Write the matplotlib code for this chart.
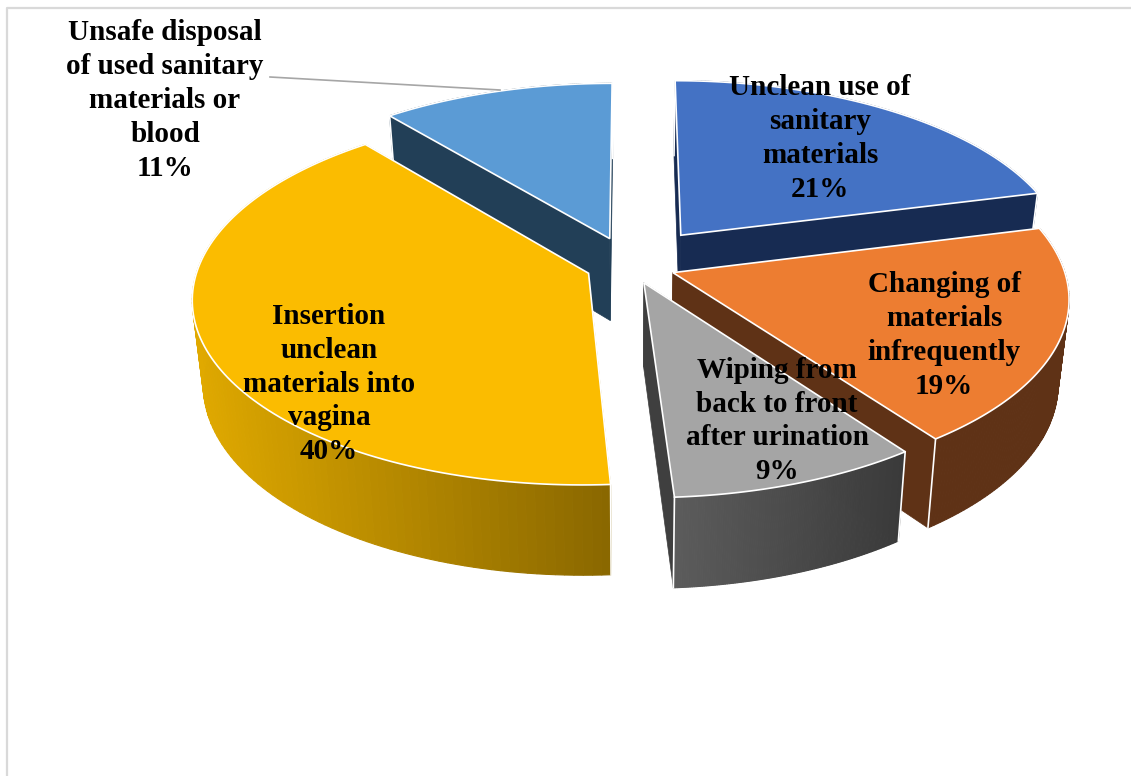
import numpy as np
import matplotlib
matplotlib.use('Agg')
import matplotlib.pyplot as plt
from matplotlib.colors import to_rgb

plt.rcParams['font.family'] = ['Liberation Serif', 'DejaVu Serif']

# data, clockwise from the top
categories = ['Unclean use of\nsanitary\nmaterials',
              'Changing of\nmaterials\ninfrequently',
              'Wiping from\nback to front\nafter urination',
              'Insertion\nunclean\nmaterials into\nvagina',
              'Unsafe disposal\nof used sanitary\nmaterials or\nblood']
values = [21, 19, 9, 40, 11]

explode = [0.215, 0.115, 0.10, 0.115, 0.16]
top_colors = ['#4472c4', '#ed7d31', '#a5a5a5', '#fbbc00', '#5b9bd5']
face_colors = ['#172b52', '#5f3216', '#3f3f3f', '#8a6800', '#223f57']
wall_left = ['#172b52', '#5f3216', '#5c5c5c', '#e0a900', '#223f57']
wall_right = ['#172b52', '#5f3216', '#3a3a3a', '#8a6800', '#223f57']
draw_order = [4, 0, 1, 3, 2]
label_pos = [(820, 138.5), (944, 335.5), (777, 421), (329, 384), (165, 100.5)]

# fake 3d projection, all in pixels
cx, cy = 630.5, 265.5
R, B = 390, 182
k = 0.13
shrink = 0.975


def project(u, v):
    p = 1 / (1 - k * v)
    return cx + R * u * p, cy + B * v * p


def lower(x, y, v):
    return cx + (x - cx) * shrink, y + 83 + 7 * v


fig = plt.figure(figsize=(11.31, 7.76), dpi=100)
ax = fig.add_axes([0, 0, 1, 1])
ax.set_xlim(0, 1131)
ax.set_ylim(776, 0)
ax.axis('off')

# chart border, only top and left show in the crop
ax.plot([6.5, 6.5, 1131], [776, 7.5, 7.5], color='#d9d9d9', lw=1.6, zorder=0)

fractions = np.array(values) / sum(values)
ends = np.cumsum(fractions) * 2 * np.pi
starts = ends - fractions * 2 * np.pi

z = 1
for i in draw_order:
    th = np.linspace(starts[i], ends[i], 120)
    mid = (starts[i] + ends[i]) / 2
    ou, ov = explode[i] * np.sin(mid), -explode[i] * np.cos(mid)
    u = ou + np.sin(th)
    v = ov - np.cos(th)
    x, y = project(u, v)
    ax_, ay_ = project(ou, ov)
    bx, by = lower(x, y, v)
    abx, aby = lower(ax_, ay_, ov)

    # radial faces
    for e in [0, -1]:
        ax.fill([ax_, x[e], bx[e], abx], [ay_, y[e], by[e], aby],
                color=face_colors[i], lw=0.5, zorder=z)
    # rounded wall, shaded left to right
    c0, c1 = np.array(to_rgb(wall_left[i])), np.array(to_rgb(wall_right[i]))
    xmin, xmax = x.min(), x.max()
    for j in range(len(th) - 1):
        t = (x[j] - xmin) / (xmax - xmin)
        col = c0 + (c1 - c0) * t
        ax.fill([x[j], x[j + 1], bx[j + 1], bx[j]], [y[j], y[j + 1], by[j + 1], by[j]],
                color=col, lw=0.8, zorder=z)
    # white corner lines on the wall
    for e in [0, -1]:
        ax.plot([x[e], bx[e]], [y[e], by[e]], color='white', lw=1.2, zorder=z)
    # top
    ax.fill(np.r_[ax_, x], np.r_[ay_, y], facecolor=top_colors[i],
            edgecolor='white', lw=1.2, joinstyle='miter', zorder=z)
    z += 1

# leader line for the small slice
ax.plot([270, 500], [77, 90], color='#a6a6a6', lw=1.2, zorder=z)

for i, name in enumerate(categories):
    ax.text(label_pos[i][0], label_pos[i][1], f'{name}\n{values[i]}%', ha='center', va='center',
            fontsize=21, fontweight='bold', color='black', linespacing=1.33, zorder=z + 1)

fig.savefig('out.png', dpi=100, facecolor='white')
